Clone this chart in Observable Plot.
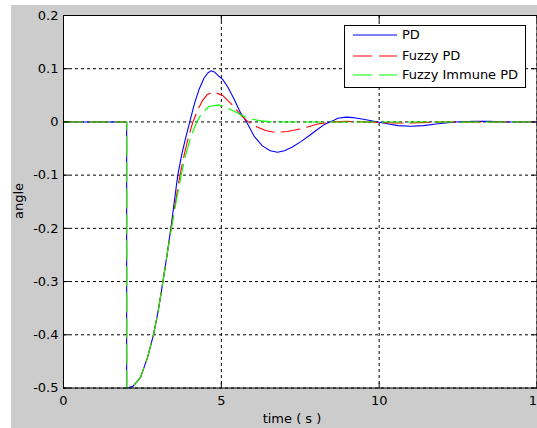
<!DOCTYPE html>
<html><head><meta charset="utf-8">
<script src="https://cdn.jsdelivr.net/npm/d3@7"></script>
<script src="https://cdn.jsdelivr.net/npm/@observablehq/plot@0.6"></script>
<style>
html,body{margin:0;padding:0;width:537px;height:428px;overflow:hidden;background:#fff;font-family:"DejaVu Sans",sans-serif;color:#000;}
#fig{position:absolute;left:11px;top:5px;width:540px;height:423px;background:#cccccc;}
#chart{position:absolute;left:0;top:0;}
.legend{position:absolute;left:344px;top:25px;width:182px;height:63px;background:#fff;border:1px solid #000;box-sizing:border-box;font-size:13px;}
.row{position:absolute;left:0;height:16px;line-height:16px;width:180px;}
.row svg{position:absolute;left:8px;top:0;}
.row span{position:absolute;left:57px;top:0;white-space:nowrap;}
.xlabel{position:absolute;left:192px;top:411px;width:200px;text-align:center;font-size:13px;line-height:16px;}
.ylabel{position:absolute;left:19px;top:201px;transform:translate(-50%,-50%) rotate(-90deg);font-size:13px;line-height:16px;white-space:nowrap;}
</style>
</head>
<body>
<div id="fig"><div id="chart"></div></div>
<div class="xlabel" id="xlabel"></div>
<div class="ylabel" id="ylabel"></div>
<div class="legend" id="legend"></div>
<script>
// ---- data ----
const seriesNames = ["PD", "Fuzzy PD", "Fuzzy Immune PD"];
const seriesColors = ["#0000ff", "#ff0000", "#00ff00"];
const seriesDash = [null, "19,7", "19,7"];

const pdTime  = [0, 2, 2, 2.2, 2.44, 2.66, 2.85, 3.0, 3.15, 3.28, 3.4, 3.51, 3.62, 3.75, 3.87, 4.0, 4.15, 4.3, 4.45, 4.57, 4.67, 4.78, 4.9, 5.04, 5.2, 5.41, 5.6, 5.8, 6.04, 6.3, 6.55, 6.78, 7.0, 7.25, 7.52, 7.8, 8.0, 8.26, 8.53, 8.69, 8.95, 9.2, 9.5, 9.96, 10.3, 10.6, 11.0, 11.4, 11.8, 12.4, 13.0, 13.5, 14.0, 15.0];
const pdAngle = [0, 0, -0.5, -0.497, -0.48, -0.443, -0.4, -0.355, -0.3, -0.25, -0.2, -0.15, -0.1, -0.06, -0.03, 0, 0.035, 0.062, 0.082, 0.092, 0.096, 0.094, 0.087, 0.08, 0.066, 0.042, 0.018, 0, -0.027, -0.045, -0.054, -0.057, -0.054, -0.047, -0.037, -0.025, -0.016, -0.005, 0.002, 0.007, 0.009, 0.008, 0.005, 0, -0.004, -0.007, -0.008, -0.007, -0.004, 0, 0.001, 0.001, 0, 0];

const fuzzyTime  = [0, 2, 2, 2.2, 2.44, 2.66, 2.85, 3.0, 3.15, 3.28, 3.41, 3.55, 3.69, 3.83, 3.96, 4.1, 4.25, 4.4, 4.55, 4.7, 4.85, 5.04, 5.3, 5.62, 5.83, 6.15, 6.4, 6.62, 6.9, 7.1, 7.52, 8.05, 8.5, 9.0, 10.0, 10.5, 11.0, 12.0, 15.0];
const fuzzyAngle = [0, 0, -0.5, -0.497, -0.48, -0.443, -0.4, -0.355, -0.3, -0.25, -0.2, -0.15, -0.1, -0.06, -0.028, 0, 0.022, 0.04, 0.051, 0.055, 0.054, 0.05, 0.035, 0.013, 0.001, -0.01, -0.016, -0.019, -0.019, -0.018, -0.013, -0.004, 0, 0.001, -0.001, -0.002, -0.002, 0, 0];

const immuneTime  = [0, 2, 2, 2.2, 2.44, 2.66, 2.85, 3.0, 3.15, 3.28, 3.42, 3.57, 3.73, 3.88, 4.05, 4.22, 4.35, 4.61, 4.93, 5.15, 5.41, 5.72, 6.0, 6.25, 6.6, 15.0];
const immuneAngle = [0, 0, -0.5, -0.497, -0.48, -0.443, -0.4, -0.355, -0.3, -0.25, -0.2, -0.15, -0.1, -0.06, -0.025, 0, 0.013, 0.029, 0.032, 0.027, 0.02, 0.0103, 0.005, 0.002, 0, 0];

const xTicks = [0, 5, 10, 15];
const xTickLabels = ["0", "5", "10", "15"];
const yTicks = [-0.5, -0.4, -0.3, -0.2, -0.1, 0, 0.1, 0.2];
const yTickLabels = ["-0.5", "-0.4", "-0.3", "-0.2", "-0.1", "0", "0.1", "0.2"];
const xTitle = "time ( s )";
const yTitle = "angle";

// ---- build ----
const times = [pdTime, fuzzyTime, immuneTime];
const angles = [pdAngle, fuzzyAngle, immuneAngle];
const tables = seriesNames.map((name, k) => times[k].map((t, i) => ({series: name, t, v: angles[k][i]})));

const fmtX = d => xTickLabels[xTicks.findIndex(v => Math.abs(v - d) < 1e-9)];
const fmtY = d => yTickLabels[yTicks.findIndex(v => Math.abs(v - d) < 1e-9)];
const tickShape = {draw(ctx, l) { ctx.moveTo(0, 0); ctx.lineTo(0, -l); }};
const tickOpts = {length: 5, anchor: "start", shape: tickShape, stroke: "black", strokeWidth: 1};

const W = 540, H = 423;
const chart = Plot.plot({
  width: W, height: H,
  marginLeft: 52, marginRight: 14.5, marginTop: 10, marginBottom: 40.5,
  style: {background: "transparent", fontFamily: "DejaVu Sans", fontSize: "13px", color: "black", overflow: "visible"},
  x: {domain: [0, 15]},
  y: {domain: [-0.5, 0.2]},
  marks: [
    Plot.frame({fill: "white", stroke: null}),
    Plot.gridX({ticks: xTicks, stroke: "black", strokeOpacity: 1, strokeDasharray: "3,3"}),
    Plot.gridY({ticks: yTicks, stroke: "black", strokeOpacity: 1, strokeDasharray: "3,3"}),
    ...tables.map((tab, k) => Plot.line(tab, {x: "t", y: "v", stroke: seriesColors[k], strokeWidth: 1.1, strokeDasharray: seriesDash[k]})),
    Plot.frame({stroke: "black", strokeWidth: 1}),
    Plot.vector(yTicks, {y: d => d, frameAnchor: "left", rotate: 90, ...tickOpts}),
    Plot.vector(yTicks, {y: d => d, frameAnchor: "right", rotate: -90, ...tickOpts}),
    Plot.vector(xTicks, {x: d => d, frameAnchor: "bottom", rotate: 0, ...tickOpts}),
    Plot.vector(xTicks, {x: d => d, frameAnchor: "top", rotate: 180, ...tickOpts}),
    Plot.axisX({ticks: xTicks, tickFormat: fmtX, tickSize: 0, tickPadding: 8, label: null}),
    Plot.axisY({ticks: yTicks, tickFormat: fmtY, tickSize: 0, tickPadding: 5, label: null})
  ]
});
document.getElementById("chart").appendChild(chart);

document.getElementById("xlabel").textContent = xTitle;
document.getElementById("ylabel").textContent = yTitle;

// legend
const legend = document.getElementById("legend");
const rowTops = [1, 22, 41];
seriesNames.forEach((name, k) => {
  const row = document.createElement("div");
  row.className = "row";
  row.style.top = rowTops[k] + "px";
  const dash = seriesDash[k] ? ` stroke-dasharray="${seriesDash[k]}"` : "";
  row.innerHTML = `<svg width="44" height="16"><line x1="0" x2="44" y1="8" y2="8" stroke="${seriesColors[k]}" stroke-width="1.1"${dash}/></svg><span>${name}</span>`;
  legend.appendChild(row);
});
</script>
</body></html>
